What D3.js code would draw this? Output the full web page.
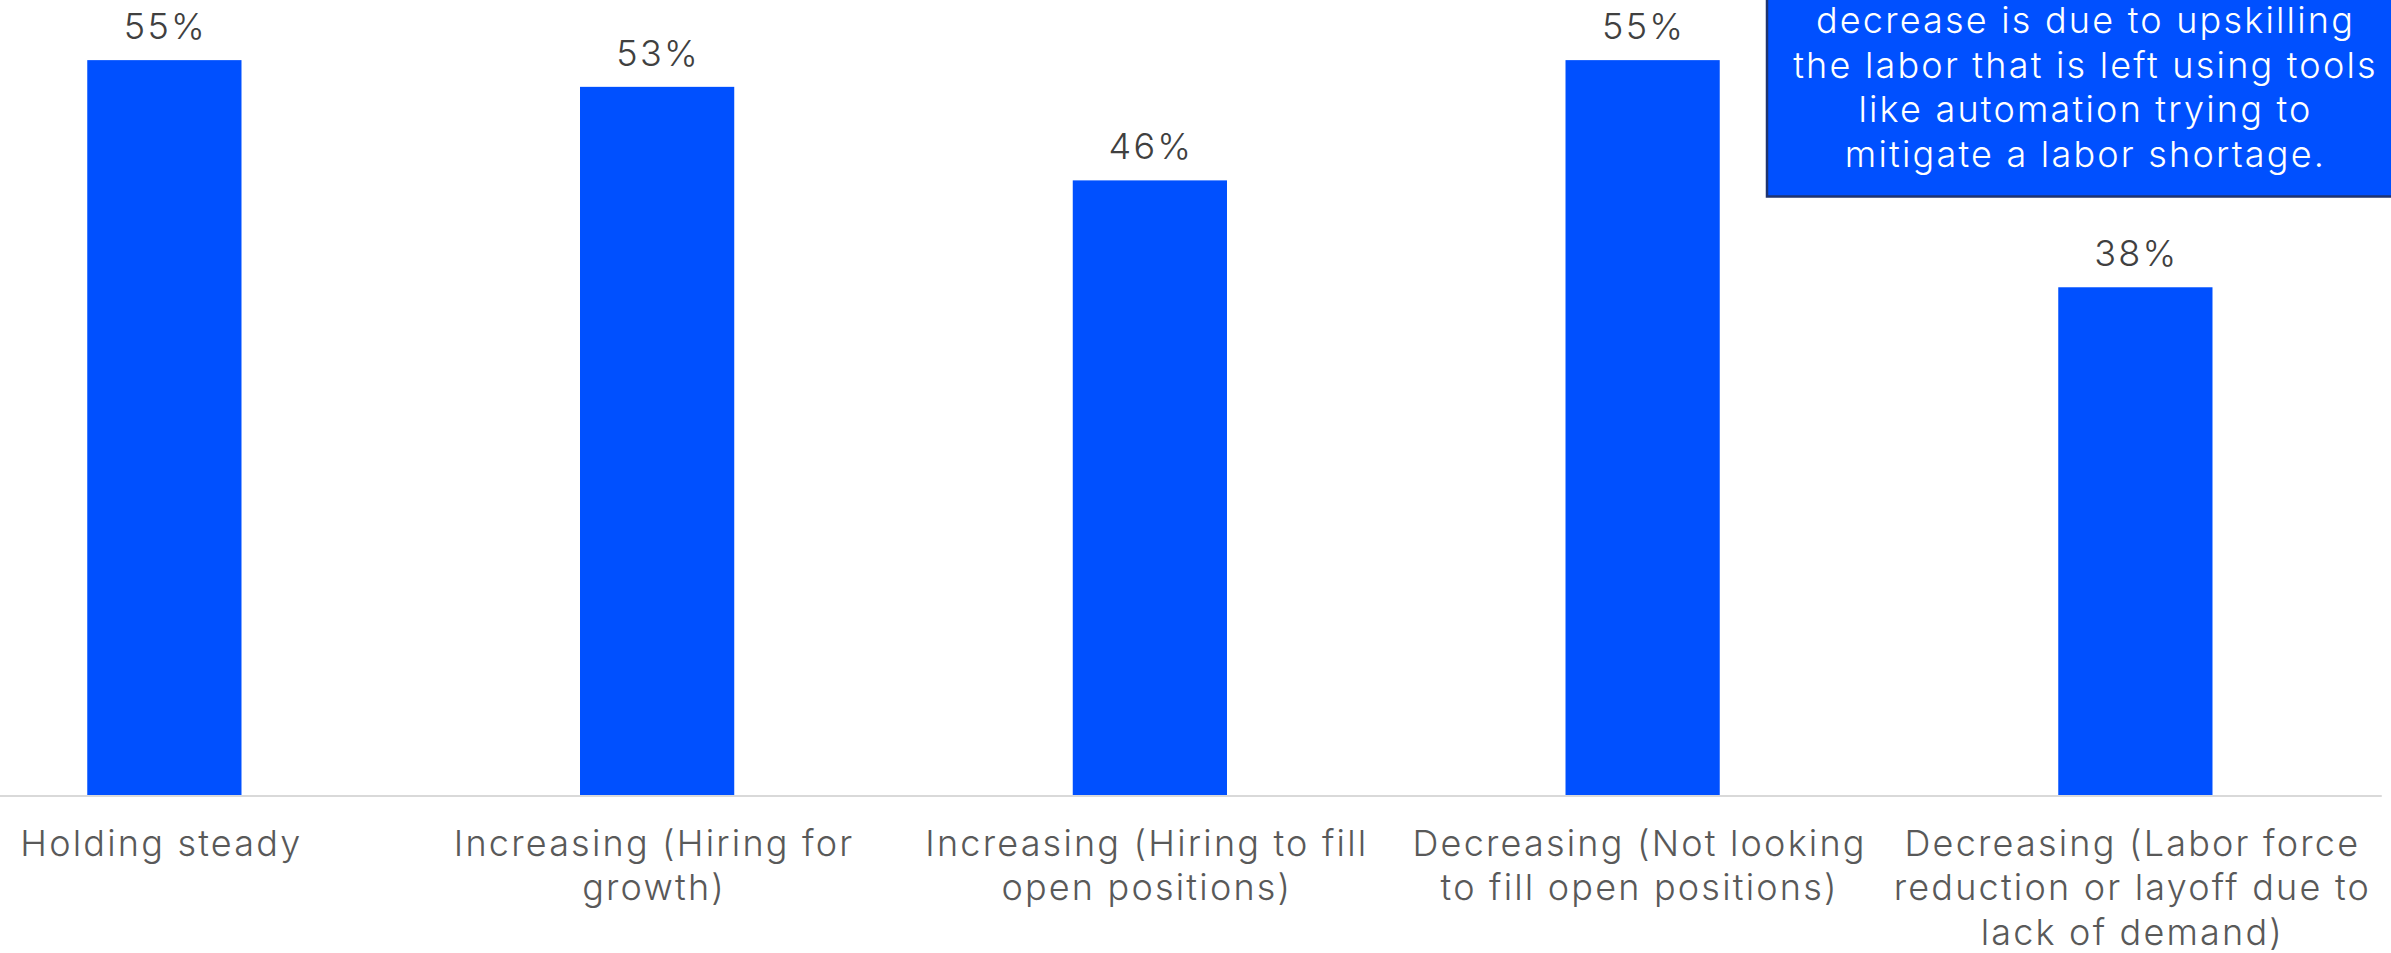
<!DOCTYPE html>
<html>
<head>
<meta charset="utf-8">
<script src="https://cdn.jsdelivr.net/npm/d3@7"></script>
<style>
  html, body { margin: 0; padding: 0; background: #ffffff; overflow: hidden; }
  svg { display: block; font-family: Inter, "Noto Sans", sans-serif; }
</style>
</head>
<body>
<svg id="chart" width="2391" height="953"></svg>
<script>
// Workforce plans, share of respondents
const categories = [
  ["Holding steady"],
  ["Increasing (Hiring for", "growth)"],
  ["Increasing (Hiring to fill", "open positions)"],
  ["Decreasing (Not looking", "to fill open positions)"],
  ["Decreasing (Labor force", "reduction or layoff due to", "lack of demand)"]
];
const values = [55, 53, 46, 55, 38];
const valueLabels = ["55%", "53%", "46%", "55%", "38%"];
const noteLines = [
  "decrease is due to upskilling",
  "the labor that is left using tools",
  "like automation trying to",
  "mitigate a labor shortage."
];

const baseY = 795;
const svg = d3.select("#chart");

const x = d3.scaleBand()
  .domain(d3.range(categories.length))
  .range([-82, 2381.75])
  .paddingInner(0.687)
  .paddingOuter(0.3435);

const y = d3.scaleLinear().domain([0, 59.5]).range([baseY, 0]);

const textStyle = sel => sel
  .attr("font-size", 36)
  .attr("font-weight", 300)
  .attr("letter-spacing", 2.2);

// bars
svg.append("g").selectAll("rect")
  .data(values)
  .join("rect")
  .attr("x", (d, i) => x(i))
  .attr("width", x.bandwidth())
  .attr("y", d => y(d))
  .attr("height", d => y(0) - y(d))
  .attr("fill", "#0050ff");

// baseline
svg.append("line")
  .attr("x1", 0).attr("x2", 2381.75)
  .attr("y1", baseY + 1).attr("y2", baseY + 1)
  .attr("stroke", "#d9d9d9").attr("stroke-width", 2);

// value labels
svg.append("g").selectAll("text")
  .data(values)
  .join("text")
  .attr("x", (d, i) => x(i) + x.bandwidth() / 2 + 1)
  .attr("y", d => y(d) - 21)
  .attr("text-anchor", "middle")
  .call(textStyle)
  .attr("fill", "#404040")
  .text((d, i) => valueLabels[i]);

// category labels
const cat = svg.append("g").selectAll("text")
  .data(categories)
  .join("text")
  .attr("y", 856)
  .attr("text-anchor", "middle")
  .call(textStyle)
  .attr("fill", "#595959");
cat.selectAll("tspan")
  .data((d, i) => d.map(t => ({ t, i })))
  .join("tspan")
  .attr("x", d => x(d.i) + x.bandwidth() / 2 - 3)
  .attr("dy", (d, j) => j === 0 ? 0 : 44.4)
  .text(d => d.t);

// callout note
const note = svg.append("g");
note.append("rect")
  .attr("x", 1767).attr("y", -40)
  .attr("width", 640).attr("height", 236.5)
  .attr("fill", "#0050ff")
  .attr("stroke", "#1f3470").attr("stroke-width", 2.5);
note.append("g").selectAll("text")
  .data(noteLines)
  .join("text")
  .attr("x", 2085.5)
  .attr("y", (d, i) => 33.3 + i * 44.4)
  .attr("text-anchor", "middle")
  .call(textStyle)
  .attr("fill", "#ffffff")
  .text(d => d);
</script>
</body>
</html>
